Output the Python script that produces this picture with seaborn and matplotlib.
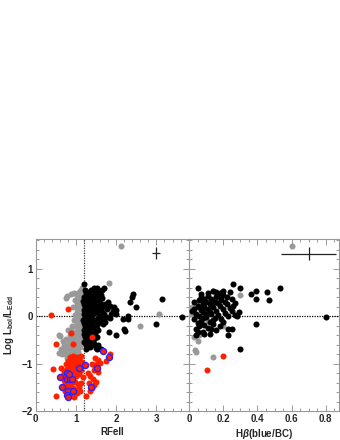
import numpy as np
import pandas as pd
import matplotlib
matplotlib.use("Agg")
import matplotlib.pyplot as plt
import seaborn as sns
from matplotlib.ticker import MultipleLocator

# ---------------- data ----------------
rfe_black = [
(1.20,0.67),(1.22,0.55),(1.25,0.48),(1.21,0.40),(1.28,0.42),(1.33,0.50),(1.38,0.55),(1.45,0.58),(1.52,0.58),(1.58,0.52),
(1.48,0.48),(1.42,0.40),(1.35,0.35),(1.26,0.30),(1.20,0.25),(1.23,0.18),(1.30,0.22),(1.37,0.25),(1.44,0.28),(1.50,0.33),
(1.56,0.40),(1.62,0.45),(1.70,0.60),(1.66,0.38),(1.60,0.30),(1.53,0.22),(1.46,0.15),(1.40,0.12),(1.32,0.10),(1.25,0.08),
(1.19,0.05),(1.22,-0.02),(1.28,0.02),(1.35,0.00),(1.42,0.04),(1.50,0.08),(1.58,0.12),(1.65,0.18),(1.72,0.25),(1.78,0.15),
(1.85,0.21),(1.92,0.10),(1.99,0.12),(1.99,0.04),(1.70,0.05),(1.62,-0.02),(1.55,-0.05),(1.47,-0.08),(1.40,-0.06),(1.32,-0.10),
(1.25,-0.12),(1.19,-0.15),(1.23,-0.22),(1.30,-0.18),(1.37,-0.20),(1.45,-0.25),(1.52,-0.18),(1.60,-0.12),(1.68,-0.09),(1.68,-0.16),
(1.20,-0.30),(1.27,-0.33),(1.34,-0.38),(1.41,-0.42),(1.48,-0.35),(1.56,-0.30),(1.83,-0.33),(2.00,-0.39),(1.22,-0.45),(1.30,-0.50),
(1.38,-0.55),(1.25,-0.62),(1.45,-0.58),(1.55,-0.62),(1.63,-0.70),(1.50,-0.68),(1.35,-0.65),(1.20,-0.55),
(2.43,0.46),(2.39,0.41),(2.35,0.30),(2.50,0.20),(3.13,0.36),(3.63,-0.02),(2.30,0.01),(2.30,-0.07),(2.16,-0.07),(2.98,-0.17),
(2.20,-0.28),(2.22,-0.31),
(1.24,0.35),(1.29,0.12),(1.31,0.38),(1.36,0.45),(1.39,0.30),(1.43,0.20),(1.26,-0.05),(1.33,-0.28),(1.21,0.12),(1.27,0.22),
(1.34,0.16),(1.41,-0.15),(1.47,0.10),(1.36,-0.45),(1.29,-0.40),(1.44,-0.48),(1.52,-0.45),(1.58,0.00),(1.64,0.08),(1.75,-0.02),
(1.80,0.30),(1.88,0.05),(1.95,0.20),(1.21,-0.38),(1.24,-0.70),(1.52,0.42),(1.57,0.48),(1.64,0.55),
(1.39,-0.36),(1.53,-0.70),(1.47,-0.61),(1.35,-0.55),(1.73,-0.12),(1.61,0.24),(1.18,0.32),(1.18,-0.08),(1.84,-0.05),
]
rfe_gray = [
(2.11,1.48),(1.81,0.69),(3.07,0.04),(2.59,-0.22),(1.74,0.16),
(1.15,0.60),(1.12,0.55),(1.08,0.50),(1.18,0.50),(1.03,0.45),(0.95,0.48),(0.87,0.46),(0.77,0.43),(0.76,0.37),(1.10,0.42),
(1.17,0.40),(1.05,0.36),(0.98,0.33),(1.13,0.30),(1.18,0.25),(1.07,0.22),(1.00,0.18),(0.93,0.20),(1.15,0.15),(1.10,0.10),
(1.03,0.08),(1.17,0.05),(1.12,0.00),(1.06,-0.03),(0.98,0.02),(1.16,-0.08),(1.09,-0.10),(1.02,-0.12),(0.95,-0.08),(1.13,-0.16),
(1.18,-0.20),(1.06,-0.20),(0.99,-0.22),(0.90,-0.20),(1.11,-0.26),(1.15,-0.32),(1.04,-0.30),(0.96,-0.33),(0.88,-0.30),(0.80,-0.30),
(1.09,-0.37),(1.17,-0.42),(1.01,-0.40),(0.93,-0.42),(0.85,-0.40),(0.61,-0.42),(1.12,-0.48),(1.05,-0.50),(0.98,-0.48),(0.90,-0.52),
(0.82,-0.50),(0.75,-0.48),(0.68,-0.52),(1.15,-0.56),(1.08,-0.58),(1.00,-0.60),(0.93,-0.62),(0.86,-0.58),(0.78,-0.60),(0.70,-0.62),
(1.11,-0.66),(1.03,-0.68),(0.96,-0.70),(0.88,-0.68),(0.80,-0.70),(0.72,-0.72),(0.62,-0.70),(1.06,-0.75),(0.99,-0.78),(0.91,-0.76),
(0.83,-0.78),(0.75,-0.80),(0.66,-0.80),(0.94,-0.84),(0.86,-0.86),(0.78,-0.88),(1.00,-0.88),(0.58,-0.40),(0.57,-0.78),(1.14,0.34),
(1.10,0.26),(1.02,0.28),(1.16,-0.02),(1.08,0.14),(1.00,-0.04),(1.14,-0.36),(1.06,-0.44),(0.97,-0.56),(1.10,-0.52),(0.89,-0.46),
]
rfe_red = [
(0.38,0.03),(0.81,0.15),(0.88,-0.35),(0.50,-0.59),(1.41,-0.44),(0.92,-0.58),
(0.44,-1.12),(0.50,-1.68),(1.24,-1.68),
(1.85,-0.80),(1.75,-0.95),(1.60,-0.98),(1.56,-0.93),(1.48,-0.88),
(0.85,-0.86),(0.92,-0.84),(0.97,-0.90),(1.03,-0.87),(1.08,-0.92),(1.12,-0.85),(0.80,-0.95),(0.88,-0.97),(1.00,-0.98),(1.15,-0.96),
(0.75,-1.02),(0.83,-1.05),(0.90,-1.03),(0.96,-1.07),(1.02,-1.04),(1.10,-1.08),(1.15,-1.02),(1.40,-1.02),(1.47,-1.06),(1.52,-1.00),
(0.70,-1.15),(0.78,-1.12),(0.86,-1.15),(0.95,-1.13),(1.03,-1.16),(1.12,-1.14),(1.45,-1.14),(1.55,-1.18),(1.30,-1.20),
(0.68,-1.24),(0.75,-1.22),(0.92,-1.24),(1.00,-1.26),(1.08,-1.22),(1.17,-1.28),(1.35,-1.26),(1.42,-1.32),(0.70,-1.35),
(0.73,-1.38),(0.80,-1.40),(0.88,-1.42),(0.97,-1.38),(1.05,-1.43),(1.13,-1.40),(1.33,-1.40),(1.45,-1.45),(1.50,-1.38),
(0.75,-1.50),(0.85,-1.48),(0.92,-1.52),(1.00,-1.55),(1.08,-1.50),(1.40,-1.52),(1.36,-1.58),(0.72,-1.58),(0.87,-1.62),(1.02,-1.62),
(0.83,-1.68),(0.96,-1.70),(1.10,-1.58),(0.62,-1.10),
]
rfe_blue = [(1.67,-0.73),(1.81,-0.86),(1.23,-1.03),(1.07,-1.10),(1.53,-1.10),(0.78,-1.19),(0.61,-1.29),(0.77,-1.33),
            (0.85,-1.33),(0.90,-1.33),(0.65,-1.49),(1.38,-1.49),(0.80,-1.58),(0.93,-1.58),(0.78,-1.67),(0.80,-1.71),(0.83,-1.22)]

hb_black = [
(0.53,0.60),(0.458,0.50),(0.47,0.34),(0.39,0.53),(0.39,0.36),(0.36,0.47),(0.30,0.59),(0.26,0.67),(0.80,-0.03),(0.39,-0.17),
(0.29,0.08),(0.28,0.00),(0.27,0.02),(0.23,-0.28),(0.25,-0.28),(0.23,-0.39),(0.30,-0.70),(0.05,0.59),(0.07,0.46),(0.06,0.34),
(0.09,-0.38),(0.05,-0.33),
(0.14,0.53),(0.155,0.50),(0.18,0.48),(0.20,0.45),(0.24,0.50),(0.11,0.42),(0.13,0.36),(0.10,0.30),(0.16,0.40),(0.22,0.40),
(0.08,0.28),(0.12,0.25),(0.15,0.30),(0.19,0.33),(0.25,0.35),(0.05,0.22),(0.09,0.20),(0.14,0.18),(0.18,0.22),(0.22,0.25),
(0.27,0.28),(0.03,0.15),(0.07,0.12),(0.11,0.15),(0.16,0.10),(0.20,0.14),(0.24,0.17),(0.04,0.05),(0.08,0.08),(0.13,0.05),
(0.17,0.02),(0.21,0.06),(0.25,0.10),(0.06,0.00),(0.10,-0.02),(0.15,-0.04),(0.19,-0.06),(0.03,-0.06),(0.07,-0.10),(0.12,-0.12),
(0.05,-0.15),(0.09,-0.18),(0.14,-0.16),(0.18,-0.20),(0.06,-0.22),(0.11,-0.25),(0.13,-0.27),(0.08,-0.34),(0.04,-0.28),(0.16,-0.30),
(0.02,0.10),(0.09,0.36),(0.20,0.52),(0.12,0.08),(0.06,0.18),(0.17,0.27),(0.23,0.00),(0.10,0.05),(0.14,-0.08),(0.08,-0.05),
(0.03,0.30),(0.12,-0.38),(0.20,-0.12),(0.26,0.22),(0.11,0.48),(0.04,-0.40),(0.07,0.40),(0.21,0.30),(0.19,0.40),
]
hb_gray = [(0.60,1.48),(0.30,0.44),(0.03,-0.45),(0.055,-0.53),(0.035,-0.72),(0.04,-0.76),(0.14,-0.86),(0.02,0.18),(0.04,0.25),
           (0.16,0.45),(0.11,-0.10),(0.01,0.05),(0.14,0.52),(0.06,-0.40),(0.20,-0.22)]
hb_red = [(0.197,-0.84),(0.103,-1.14)]

err_left = (3.0, 1.32, 0.10, 0.13)
err_right = (0.70, 1.31, 0.16, 0.14)

# ---------------- style ----------------
sns.set_style("ticks")
plt.rcParams["font.family"] = ["Liberation Sans", "DejaVu Sans"]
plt.rcParams["mathtext.fontset"] = "custom"
plt.rcParams["mathtext.rm"] = "Liberation Sans:bold"
plt.rcParams["mathtext.it"] = "Liberation Sans:italic:bold"
plt.rcParams["figure.facecolor"] = "white"
plt.rcParams["axes.facecolor"] = "white"
plt.rcParams["savefig.facecolor"] = "white"

def df(pts):
    a = np.array(pts)
    return pd.DataFrame({"x": a[:, 0], "y": a[:, 1]})

fig = plt.figure(figsize=(3.4, 4.4), dpi=100, facecolor="white")
axL = fig.add_axes([35.7/340, 29/440, 153.3/340, 171.7/440])
axR = fig.add_axes([189/340, 29/440, 150/340, 171.7/440])

S = 19
RED = "#ff2000"
GRAY = "#999999"

sns.scatterplot(data=df(rfe_gray), x="x", y="y", ax=axL, color=GRAY, s=S, linewidth=0, zorder=3)
sns.scatterplot(data=df(rfe_black), x="x", y="y", ax=axL, color="black", s=S, linewidth=0, zorder=4)
sns.scatterplot(data=df(rfe_red), x="x", y="y", ax=axL, color=RED, s=S, linewidth=0, zorder=5)
sns.scatterplot(data=df(rfe_blue), x="x", y="y", ax=axL, color=RED, s=S, edgecolor="#3020ff", linewidth=1.0, zorder=6)

sns.scatterplot(data=df(hb_gray), x="x", y="y", ax=axR, color=GRAY, s=S, linewidth=0, zorder=3)
sns.scatterplot(data=df(hb_black), x="x", y="y", ax=axR, color="black", s=S, linewidth=0, zorder=4)
sns.scatterplot(data=df(hb_red), x="x", y="y", ax=axR, color=RED, s=S, linewidth=0, zorder=5)

for ax, e in ((axL, err_left), (axR, err_right)):
    ax.errorbar([e[0]], [e[1]], xerr=[e[2]], yerr=[e[3]], fmt="none", ecolor="#222222", elinewidth=0.9, capsize=0)
    ax.axhline(0, color="black", linestyle=(0, (1, 1)), linewidth=0.9, zorder=2)

axL.axvline(1.2, color="#444444", linestyle=(0, (1, 1)), linewidth=0.9, zorder=2)

axL.set_xlim(0, 3.81)
axR.set_xlim(0, 0.877)
for ax in (axL, axR):
    ax.set_ylim(-2, 1.615)
    ax.yaxis.set_major_locator(MultipleLocator(1))
    ax.yaxis.set_minor_locator(MultipleLocator(0.2))
    for sp in ax.spines.values():
        sp.set_visible(True)
        sp.set_color("#999999")
        sp.set_linewidth(0.8)
    ax.tick_params(which="both", direction="in", top=True, right=True, color="#999999",
                   labelsize=7, pad=2, width=0.7)
    ax.tick_params(which="major", length=4)
    ax.tick_params(which="minor", length=2)

axL.xaxis.set_major_locator(MultipleLocator(1))
axL.xaxis.set_minor_locator(MultipleLocator(0.2))
axR.xaxis.set_major_locator(MultipleLocator(0.2))
axR.xaxis.set_minor_locator(MultipleLocator(0.05))
axR.tick_params(labelleft=False)

axL.set_xticks([0, 1, 2, 3])
axL.set_xticklabels(["0", "1", "2", "3"], fontweight="bold", fontsize=7)
axR.set_xticks([0, 0.2, 0.4, 0.6, 0.8])
axR.set_xticklabels(["0", "0.2", "0.4", "0.6", "0.8"], fontweight="bold", fontsize=7)
axL.set_yticks([-2, -1, 0, 1])
axL.set_yticklabels(["\u22122", "\u22121", "0", "1"], fontweight="bold", fontsize=7)

axL.set_xlabel("RFeII", fontsize=7, fontweight="bold", labelpad=2)
axR.set_xlabel(r"H$\beta$(blue/BC)", fontsize=7, fontweight="bold", labelpad=2)
axL.set_ylabel(r"Log L$_{\rm bol}$/L$_{\rm Edd}$", fontsize=7, fontweight="bold", labelpad=4)
axR.set_ylabel("")

fig.savefig("out.png", dpi=100, facecolor="white")
